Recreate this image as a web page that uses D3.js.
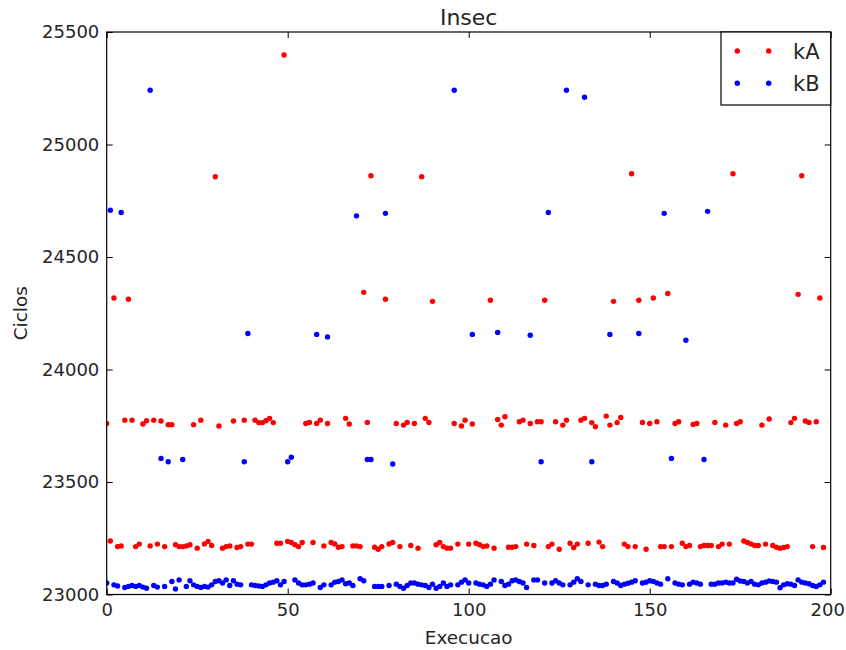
<!DOCTYPE html>
<html>
<head>
<meta charset="utf-8">
<script src="https://cdn.jsdelivr.net/npm/d3@7"></script>
<style>
  html, body { margin: 0; padding: 0; background: #fff; }
  svg { display: block; }
  text { font-family: "DejaVu Sans", sans-serif; fill: #262626; }
</style>
</head>
<body>
<svg id="chart" width="846" height="650"></svg>
<script>
// ---- data ----
const title = "Insec";
const xLabel = "Execucao";
const yLabel = "Ciclos";
const seriesNames = ["kA", "kB"];
const xTicks = [0, 50, 100, 150, 200];
const yTicks = [23000, 23500, 24000, 24500, 25000, 25500];

const kA = [
  23760, 23238, 24318, 23213, 23216, 23775, 24312, 23775, 23213, 23224,
  23758, 23772, 23216, 23775, 23224, 23771, 23213, 23755, 23755, 23221,
  23213, 23213, 23216, 23221, 23755, 23206, 23775, 23225, 23236, 23218,
  24857, 23749, 23206, 23213, 23216, 23771, 23209, 23213, 23775, 23224,
  23224, 23775, 23764, 23764, 23772, 23783, 23764, 23228, 23228, 25398,
  23236, 23231, 23221, 23213, 23231, 23760, 23765, 23231, 23760, 23775,
  23216, 23760, 23231, 23225, 23210, 23213, 23783, 23758, 23216, 23216,
  23213, 24343, 23765, 24861, 23210, 23201, 23213, 24312, 23225, 23231,
  23760, 23213, 23753, 23765, 23218, 23760, 23206, 24857, 23783, 23765,
  24303, 23221, 23231, 23213, 23206, 23206, 23760, 23224, 23749, 23775,
  23224, 23758, 23228, 23221, 23213, 23216, 24308, 23206, 23778, 23753,
  23790, 23210, 23210, 23213, 23768, 23775, 23224, 23760, 23218, 23768,
  23768, 24308, 23213, 23224, 23768, 23201, 23753, 23775, 23228, 23209,
  23224, 23775, 23783, 23228, 23764, 23746, 23233, 23213, 23793, 23753,
  24303, 23764, 23787, 23224, 23213, 24870, 23213, 24308, 23765, 23201,
  23760, 24318, 23768, 23213, 23213, 24338, 23213, 23760, 23768, 23228,
  23213, 23218, 23756, 23760, 23213, 23218, 23218, 23218, 23765, 23213,
  23224, 23753, 23224, 24870, 23760, 23768, 23238, 23231, 23225, 23218,
  23218, 23753, 23224, 23780, 23218, 23210, 23206, 23209, 23213, 23764,
  23783, 24334, 24861, 23771, 23765, 23213, 23768, 24318, 23209
];

const kB = [
  23051, 24708, 23043, 23038, 24698, 23031, 23036, 23040, 23036, 23040,
  23033, 23028, 25241, 23040, 23033, 23605, 23036, 23590, 23058, 23025,
  23065, 23600, 23036, 23061, 23043, 23036, 23031, 23036, 23033, 23043,
  23058, 23061, 23051, 23065, 23040, 23061, 23046, 23043, 23590, 24160,
  23043, 23040, 23038, 23036, 23043, 23051, 23055, 23061, 23043, 23058,
  23590, 23610, 23065, 23051, 23043, 23043, 23046, 23051, 24156, 23031,
  23043, 24145, 23043, 23055, 23058, 23065, 23048, 23051, 23040, 24683,
  23070, 23061, 23600, 23600, 23036, 23036, 23036, 24694, 23040, 23580,
  23046, 23036, 23028, 23040, 23051, 23051, 23046, 23043, 23040, 23031,
  23046, 23028, 23036, 23051, 23036, 23043, 25241, 23043, 23055, 23065,
  23051, 24156, 23051, 23046, 23043, 23036, 23046, 23065, 24165, 23058,
  23040, 23046, 23061, 23065, 23058, 23051, 23031, 24152, 23065, 23065,
  23590, 23051, 24698, 23051, 23061, 23051, 23043, 25241, 23043, 23055,
  23070, 23058, 25210, 23043, 23590, 23046, 23040, 23040, 23046, 24156,
  23058, 23051, 23040, 23046, 23050, 23055, 23061, 24160, 23051, 23055,
  23061, 23058, 23051, 23046, 24694, 23070, 23605, 23051, 23046, 23043,
  24130, 23046, 23055, 23051, 23046, 23600, 24703, 23046, 23046, 23051,
  23051, 23055, 23051, 23051, 23068, 23060, 23058, 23051, 23058, 23046,
  23043, 23051, 23055, 23060, 23058, 23055, 23030, 23043, 23048, 23046,
  23040, 23065, 23055, 23051, 23048, 23040, 23036, 23043, 23055
];

const colors = ["#ff0000", "#0000ff"];

// ---- layout ----
const L = 106.7, R = 830.7, T = 32, B = 594.5;
const svg = d3.select("#chart");

const x = d3.scaleLinear().domain([0, 200]).range([L, R]);
const y = d3.scaleLinear().domain([23000, 25500]).range([B, T]);

const defs = svg.append("defs");
defs.append("clipPath").attr("id", "plotclip")
  .append("rect").attr("x", L).attr("y", T).attr("width", R - L).attr("height", B - T);

// points
const series = [kA, kB];
const plot = svg.append("g").attr("clip-path", "url(#plotclip)");
series.forEach((vals, si) => {
  plot.append("g").selectAll("circle")
    .data(vals)
    .join("circle")
    .attr("cx", (d, i) => x(i))
    .attr("cy", d => y(d))
    .attr("r", 2.7)
    .attr("fill", colors[si]);
});

// axes (ticks inside, mirrored)
const fs = 18;
const gBottom = svg.append("g").attr("transform", `translate(0,${B})`)
  .call(d3.axisBottom(x).tickValues(xTicks).tickFormat(d3.format("d"))
    .tickSizeInner(-6).tickSizeOuter(0).tickPadding(8.9));
const gTop = svg.append("g").attr("transform", `translate(0,${T})`)
  .call(d3.axisTop(x).tickValues(xTicks).tickFormat("")
    .tickSizeInner(-6).tickSizeOuter(0));
const gLeft = svg.append("g").attr("transform", `translate(${L},0)`)
  .call(d3.axisLeft(y).tickValues(yTicks).tickFormat(d3.format("d"))
    .tickSizeInner(-6).tickSizeOuter(0).tickPadding(7.4));
const gRight = svg.append("g").attr("transform", `translate(${R},0)`)
  .call(d3.axisRight(y).tickValues(yTicks).tickFormat("")
    .tickSizeInner(-6).tickSizeOuter(0));

[gBottom, gTop, gLeft, gRight].forEach(g => {
  g.select(".domain").remove();
  g.selectAll(".tick line").attr("stroke", "#000").attr("stroke-width", 1);
  g.selectAll(".tick text")
    .attr("font-family", "DejaVu Sans, sans-serif")
    .attr("font-size", fs)
    .attr("fill", "#262626");
});
// keep the last x tick label inside the page edge
gBottom.selectAll(".tick text").filter(d => d === 200).attr("dx", -3.5);

// frame
svg.append("rect")
  .attr("x", L).attr("y", T).attr("width", R - L).attr("height", B - T)
  .attr("fill", "none").attr("stroke", "#000").attr("stroke-width", 1.2);

// title & labels
svg.append("text").attr("x", (L + R) / 2).attr("y", 25)
  .attr("text-anchor", "middle").attr("font-size", 22).text(title);
svg.append("text").attr("x", (L + R) / 2).attr("y", 644)
  .attr("text-anchor", "middle").attr("font-size", 18.4).text(xLabel);
svg.append("text")
  .attr("transform", `translate(27,${(T + B) / 2}) rotate(-90)`)
  .attr("text-anchor", "middle").attr("font-size", 18.4).text(yLabel);

// legend
const lg = svg.append("g");
lg.append("rect").attr("x", 721).attr("y", T).attr("width", R - 721).attr("height", 105 - T)
  .attr("fill", "#fff").attr("stroke", "#000").attr("stroke-width", 1.2);
seriesNames.forEach((name, i) => {
  const ly = 51 + i * 32.3;
  [737.3, 768.7].forEach(mx => {
    lg.append("circle").attr("cx", mx).attr("cy", ly).attr("r", 2.7).attr("fill", colors[i]);
  });
  lg.append("text").attr("x", 793).attr("y", ly).attr("dy", "0.36em")
    .attr("font-size", 21).text(name);
});
</script>
</body>
</html>
